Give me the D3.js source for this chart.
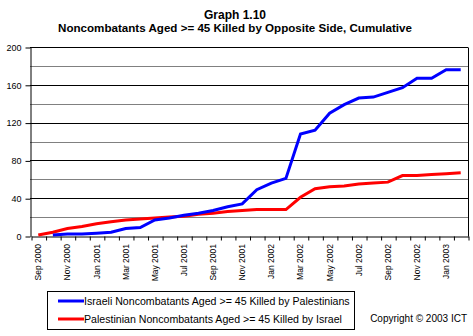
<!DOCTYPE html>
<html>
<head>
<meta charset="utf-8">
<script src="https://cdn.jsdelivr.net/npm/d3@7"></script>
<style>
  html, body { margin: 0; padding: 0; background: #fff; }
  svg { display: block; font-family: Arial, "Liberation Sans", sans-serif; }
</style>
</head>
<body>
<svg id="chart" width="473" height="336"></svg>
<script>
// ---- data ----
const months = ["Sep 2000","Oct 2000","Nov 2000","Dec 2000","Jan 2001","Feb 2001","Mar 2001","Apr 2001",
  "May 2001","Jun 2001","Jul 2001","Aug 2001","Sep 2001","Oct 2001","Nov 2001","Dec 2001",
  "Jan 2002","Feb 2002","Mar 2002","Apr 2002","May 2002","Jun 2002","Jul 2002","Aug 2002",
  "Sep 2002","Oct 2002","Nov 2002","Dec 2002","Jan 2003","Feb 2003"];
const israeliKilled = [null,1,2,2,3,4,8,9,17,19,22,24,27,31,34,49,56,61,108,112,130,139,146,147,152,157,167,167,176,176];
const palestinianKilled = [1,4,8,10,13,15,17,18,19,20,21,23,24,26,27,28,28,28,41,50,52,53,55,56,57,64,64,65,66,67];
const yTicks = [0,40,80,120,160,200];
const yGrid = [20,40,60,80,100,120,140,160,180,200];
const seriesNames = ["Israeli Noncombatants Aged >= 45 Killed by Palestinians",
                     "Palestinian Noncombatants Aged >= 45 Killed by Israel"];
const titleLines = ["Graph 1.10", "Noncombatants Aged >= 45 Killed by Opposite Side, Cumulative"];

// ---- layout ----
const svg = d3.select("#chart");
const L = 30, R = 468, T = 47, B = 236;

const x = d3.scaleBand().domain(months).range([L + 1, R]).padding(0);
const xi = d3.scaleLinear().domain([0, months.length]).range([L + 1, R]);
const y = d3.scaleLinear().domain([0, 200]).range([B, T]);
const cx = m => x(m) + x.bandwidth() / 2;

// title
svg.append("text").attr("x", 235).attr("y", 19).attr("text-anchor", "middle")
  .style("font-weight", "bold").style("font-size", "12px").text(titleLines[0]);
svg.append("text").attr("x", 235).attr("y", 32).attr("text-anchor", "middle")
  .style("font-weight", "bold").style("font-size", "11.6px").text(titleLines[1]);

// gridlines
svg.append("g").selectAll("line").data(yGrid).join("line")
  .attr("x1", L).attr("x2", R)
  .attr("y1", d => Math.round(y(d)) + 0.5).attr("y2", d => Math.round(y(d)) + 0.5)
  .attr("stroke", d => d % 40 === 0 ? "#000" : "#808080")
  .attr("stroke-width", 1);

// right border
svg.append("line").attr("x1", R + 0.5).attr("x2", R + 0.5)
  .attr("y1", Math.round(y(200)) + 0.5).attr("y2", B + 0.5)
  .attr("stroke", "#000");

// y axis
const yAxis = svg.append("g").attr("transform", `translate(${L + 0.5},0.5)`)
  .call(d3.axisLeft(y).tickValues(yTicks).tickSize(5).tickSizeOuter(0).tickPadding(4));
yAxis.select(".domain").attr("stroke", "#000");
yAxis.selectAll("line").attr("stroke", "#000");
yAxis.selectAll("text").style("font-size", "9px").attr("fill", "#000")
  .style("font-family", "Arial, 'Liberation Sans', sans-serif");

// x axis ticks (category boundaries)
const xTickAxis = svg.append("g").attr("transform", `translate(0.5,${B + 0.5})`)
  .call(d3.axisBottom(xi).tickValues(d3.range(0, months.length + 1)).tickSize(4).tickSizeOuter(0).tickFormat(""));
xTickAxis.select(".domain").attr("stroke", "#000");
xTickAxis.selectAll("line").attr("stroke", "#000");

// x labels
const xLab = svg.append("g").attr("transform", `translate(0,${B})`)
  .call(d3.axisBottom(x).tickValues(months.filter((d, i) => i % 2 === 0)).tickSize(0).tickSizeOuter(0));
xLab.select(".domain").remove();
xLab.selectAll("text")
  .style("font-size", "8.5px").attr("fill", "#000")
  .style("font-family", "Arial, 'Liberation Sans', sans-serif")
  .attr("text-anchor", "end")
  .attr("dy", null)
  .attr("transform", "translate(3,8) rotate(-90)")
  .attr("x", 0).attr("y", 0);

// lines
const line = d3.line()
  .defined(d => d.v != null)
  .x(d => cx(d.m)).y(d => y(d.v));
const mk = arr => arr.map((v, i) => ({ m: months[i], v }));

svg.append("path").datum(mk(palestinianKilled)).attr("d", line)
  .attr("fill", "none").attr("stroke", "#ff0000").attr("stroke-width", 3);
svg.append("path").datum(mk(israeliKilled)).attr("d", line)
  .attr("fill", "none").attr("stroke", "#0000ff").attr("stroke-width", 3);

// legend
const lg = svg.append("g");
lg.append("rect").attr("x", 47.5).attr("y", 291.5).attr("width", 307).attr("height", 38)
  .attr("fill", "#fff").attr("stroke", "#000");
const colors = ["#0000ff", "#ff0000"];
seriesNames.forEach((n, i) => {
  const yy = 301 + i * 18;
  lg.append("line").attr("x1", 58).attr("x2", 84).attr("y1", yy).attr("y2", yy)
    .attr("stroke", colors[i]).attr("stroke-width", 3);
  lg.append("text").attr("x", 84).attr("y", yy + 3.7).style("font-size", "10.6px").text(n);
});

// copyright
svg.append("text").attr("x", 467).attr("y", 322).attr("text-anchor", "end")
  .style("font-size", "10px").text("Copyright \u00A9 2003 ICT");
</script>
</body>
</html>
